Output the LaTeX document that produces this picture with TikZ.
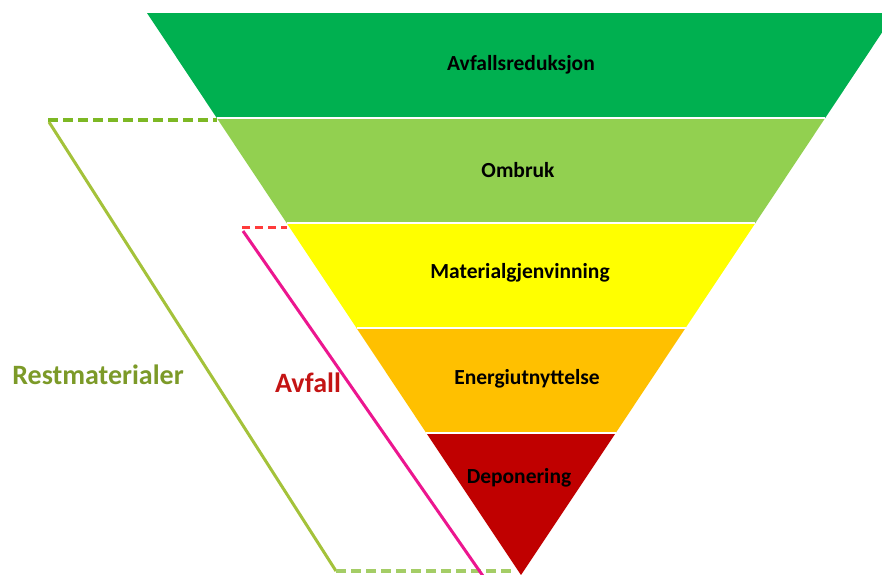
\documentclass[tikz,border=0pt]{standalone}
\usepackage{fontspec}
\setmainfont{Carlito}
\usetikzlibrary{calc}

\definecolor{reduksjon}{HTML}{00B050}
\definecolor{ombruk}{HTML}{92D050}
\definecolor{gjenvinning}{HTML}{FFFF00}
\definecolor{energi}{HTML}{FFC000}
\definecolor{deponi}{HTML}{C00000}
\definecolor{restline}{HTML}{A4C23A}
\definecolor{restdash}{HTML}{7DB824}
\definecolor{resttext}{HTML}{7C9A28}
\definecolor{avfline}{HTML}{EC168F}
\definecolor{avfdash}{HTML}{FF3B3B}
\definecolor{avftext}{HTML}{C41414}

\begin{document}
\begin{tikzpicture}[x=1pt,y=-1pt]
\tikzset{
    band/.style={draw=white,line width=1.5pt},
    level/.style={font=\bfseries\fontsize{21.5}{25}\selectfont,text=black},
    side/.style={font=\bfseries\fontsize{28}{32}\selectfont},
    bracket/.style={line width=3pt},
    dashbar/.style={line width=3.4pt,dash pattern=on 10pt off 5pt}
}
\useasboundingbox (0,0) rectangle (882,574);
% funnel corners, left and right edge per level
\coordinate (l0) at (147,13);    \coordinate (r0) at (895,13);
\coordinate (l1) at (216.8,118); \coordinate (r1) at (825.2,118);
\coordinate (l2) at (286.6,223); \coordinate (r2) at (755.4,223);
\coordinate (l3) at (356.5,328); \coordinate (r3) at (685.5,328);
\coordinate (l4) at (426.3,433); \coordinate (r4) at (615.7,433);
\coordinate (apex) at (521,575);
% levels
\fill[reduksjon] (l0) -- (r0) -- (r1) -- (l1) -- cycle;
\fill[ombruk] (l1) -- (r1) -- (r2) -- (l2) -- cycle;
\fill[gjenvinning] (l2) -- (r2) -- (r3) -- (l3) -- cycle;
\fill[energi] (l3) -- (r3) -- (r4) -- (l4) -- cycle;
\fill[deponi] (l4) -- (r4) -- (apex) -- cycle;
\draw[band] (l1) -- (r1) (l2) -- (r2) (l3) -- (r3) (l4) -- (r4);
% labels
\node[level] (reduksjon) at (521,65) {Avfallsreduksjon};
\node[level] (ombruk) at (518,170) {Ombruk};
\node[level] (gjenvinning) at (520,273) {Materialgjenvinning};
\node[level] (energi) at (527,379) {Energiutnyttelse};
\node[level] (deponi) at (519,478) {Deponering};
% brackets
\coordinate (rtop) at (48,120);
\coordinate (rbot) at (336,571);
\coordinate (rend) at (515,571);
\coordinate (atop) at (242,227);
\coordinate (abot) at (483,576);
\draw[dashbar,restdash] (rtop) -- (l1 |- rtop);
\draw[bracket,restline] ($(rtop)+(1,2)$) -- (rbot);
\draw[dashbar,restdash!70] (rbot) -- (rend);
\draw[dashbar,avfdash,line width=3pt,dash pattern=on 8pt off 5pt] (atop) -- (l2 |- atop);
\draw[bracket,avfline] ($(atop)+(1,4)$) -- (abot);
\node[side,text=resttext] (rest) at (98,375) {Restmaterialer};
\node[side,text=avftext] (avfall) at (308,383) {Avfall};
\end{tikzpicture}
\end{document}
